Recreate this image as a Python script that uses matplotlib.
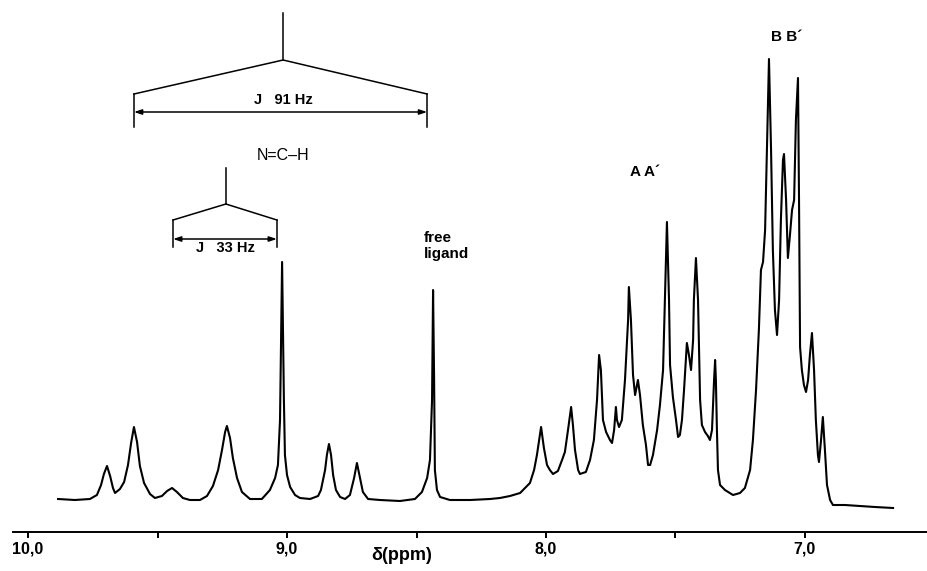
import matplotlib
matplotlib.use("Agg")
import matplotlib.pyplot as plt

# ---- data (chemical shift in ppm, intensity in arbitrary units) ----
shift_ppm = [
    9.884, 9.819, 9.761, 9.734, 9.718, 9.707, 9.695, 9.683, 9.672, 9.664,
    9.645, 9.629, 9.614, 9.602, 9.591, 9.579, 9.568, 9.552, 9.529, 9.510,
    9.483, 9.463, 9.444, 9.425, 9.402, 9.375, 9.336, 9.309, 9.286, 9.266,
    9.251, 9.239, 9.232, 9.220, 9.209, 9.193, 9.174, 9.143, 9.097, 9.066,
    9.046, 9.035, 9.027, 9.019, 9.012, 9.008, 9.000, 8.988, 8.969, 8.950,
    8.911, 8.880, 8.869, 8.853, 8.846, 8.838, 8.830, 8.822, 8.811, 8.795,
    8.776, 8.757, 8.741, 8.730, 8.718, 8.707, 8.687, 8.641, 8.564, 8.506,
    8.479, 8.459, 8.448, 8.440, 8.436, 8.432, 8.429, 8.421, 8.409, 8.371,
    8.293, 8.216, 8.178, 8.139, 8.100, 8.062, 8.046, 8.035, 8.019, 8.008,
    7.996, 7.985, 7.973, 7.954, 7.938, 7.927, 7.915, 7.903, 7.896, 7.888,
    7.876, 7.869, 7.846, 7.830, 7.815, 7.803, 7.795, 7.788, 7.780, 7.768,
    7.753, 7.745, 7.737, 7.730, 7.726, 7.718, 7.707, 7.695, 7.683, 7.680,
    7.672, 7.664, 7.656, 7.645, 7.637, 7.626, 7.614, 7.606, 7.598, 7.587,
    7.571, 7.560, 7.548, 7.541, 7.533, 7.525, 7.521, 7.510, 7.498, 7.490,
    7.483, 7.475, 7.467, 7.456, 7.448, 7.440, 7.432, 7.429, 7.421, 7.413,
    7.409, 7.405, 7.398, 7.386, 7.375, 7.367, 7.359, 7.351, 7.347, 7.344,
    7.340, 7.336, 7.328, 7.309, 7.278, 7.251, 7.232, 7.212, 7.201, 7.189,
    7.178, 7.170, 7.162, 7.154, 7.147, 7.139, 7.131, 7.124, 7.116, 7.108,
    7.100, 7.093, 7.085, 7.081, 7.073, 7.066, 7.058, 7.050, 7.042, 7.035,
    7.027, 7.023, 7.019, 7.012, 7.004, 6.996, 6.988, 6.981, 6.973, 6.965,
    6.958, 6.950, 6.946, 6.938, 6.931, 6.923, 6.915, 6.903, 6.892, 6.846,
    6.788, 6.730, 6.660,
]
intensity = [
    33, 32, 33, 37, 47, 58, 66, 56, 44, 39,
    43, 50, 67, 89, 105, 90, 66, 49, 38, 34,
    36, 41, 44, 40, 34, 32, 32, 36, 46, 62,
    82, 100, 106, 94, 74, 54, 40, 33, 33, 42,
    54, 67, 112, 270, 132, 77, 57, 45, 37, 34,
    33, 36, 42, 62, 77, 88, 77, 57, 42, 35,
    33, 37, 54, 69, 54, 40, 33, 32, 31, 33,
    40, 54, 72, 132, 242, 152, 62, 42, 35, 32,
    32, 33, 34, 36, 39, 49, 62, 77, 105, 84,
    67, 62, 58, 61, 72, 80, 102, 125, 107, 82,
    62, 58, 60, 72, 92, 132, 177, 162, 112, 100,
    92, 89, 102, 125, 112, 105, 112, 152, 212, 245,
    212, 157, 137, 152, 137, 107, 87, 67, 67, 77,
    102, 127, 162, 232, 310, 232, 167, 135, 112, 95,
    97, 112, 142, 189, 177, 162, 192, 232, 274, 232,
    182, 132, 107, 100, 96, 92, 102, 152, 172, 152,
    102, 62, 47, 42, 37, 39, 44, 62, 92, 142,
    202, 262, 270, 302, 382, 473, 382, 282, 222, 197,
    232, 312, 372, 378, 332, 274, 297, 322, 332, 412,
    454, 332, 185, 162, 147, 140, 152, 177, 199, 162,
    112, 77, 70, 92, 115, 82, 47, 32, 27, 27,
    26, 25, 24,
]

# splitting brackets (ppm positions) and their labels
big_split = [9.591, 9.015, 8.459]
small_split = [9.440, 9.236, 9.039]
big_label = "J   91 Hz"
small_label = "J   33 Hz"
group_label = "N=C\u2013H"
peak_labels = ["free\nligand", "A A\u00b4", "B B\u00b4"]
peak_label_pos = [(8.471, 286), (7.618, 360), (7.070, 495)]
tick_values = [10.0, 9.0, 8.0, 7.0]
tick_labels = ["10,0", "9,0", "8,0", "7,0"]
minor_values = [9.5, 8.5, 7.5]
x_label = "\u03b4(ppm)"

# ---- figure ----
plt.rcParams['font.family'] = ['Liberation Sans', 'DejaVu Sans']
fig = plt.figure(figsize=(9.28, 5.71), dpi=100)
ax = fig.add_axes([13 / 928, 1 - 532 / 571, 1 - 13 / 928, 532 / 571])
ax.set_xlim(10.058, 6.525)
ax.set_ylim(0, 532)

ax.plot(shift_ppm, intensity, color='black', lw=1.5, solid_joinstyle='round')

for s in ['left', 'right', 'top']:
    ax.spines[s].set_visible(False)
ax.spines['bottom'].set_linewidth(1.4)
ax.set_yticks([])
ax.set_xticks(tick_values)
ax.set_xticklabels(tick_labels, fontsize=11.5, fontweight='bold')
ax.set_xticks(minor_values, minor=True)
ax.tick_params(axis='x', which='both', direction='out', length=4, width=1.4, pad=3)
ax.set_xlabel(x_label, fontsize=13, fontweight='bold')
ax.xaxis.set_label_coords((10.058 - 8.556) / (10.058 - 6.525), -0.028)

lw_a = 1.1


def bracket(split, top, apex, foot, bottom, arrow_y):
    l, c, r = split
    ax.plot([c, c], [top, apex], color='black', lw=lw_a)
    ax.plot([l, c, r], [foot, apex, foot], color='black', lw=lw_a)
    ax.plot([l, l], [foot, bottom], color='black', lw=lw_a)
    ax.plot([r, r], [foot, bottom], color='black', lw=lw_a)
    ax.annotate('', xy=(r, arrow_y), xytext=(l, arrow_y),
                arrowprops=dict(arrowstyle='<|-|>,head_length=0.45,head_width=0.15',
                                color='black', lw=lw_a, shrinkA=0, shrinkB=0))


bracket(big_split, 519, 472, 438, 405, 420)
bracket(small_split, 364, 328, 312, 285, 293)

ax.text(big_split[1], 432, big_label, ha='center', va='center', fontsize=10.5, fontweight='bold')
ax.text(big_split[1], 377, group_label, ha='center', va='center', fontsize=11.5)
ax.text(small_split[1], 284, small_label, ha='center', va='center', fontsize=10.5, fontweight='bold')

for lab, (px, py) in zip(peak_labels, peak_label_pos):
    ax.text(px, py, lab, ha='left' if '\n' in lab else 'center', va='center',
            fontsize=11, fontweight='bold', linespacing=1.25)

fig.savefig('out.png', dpi=100)
